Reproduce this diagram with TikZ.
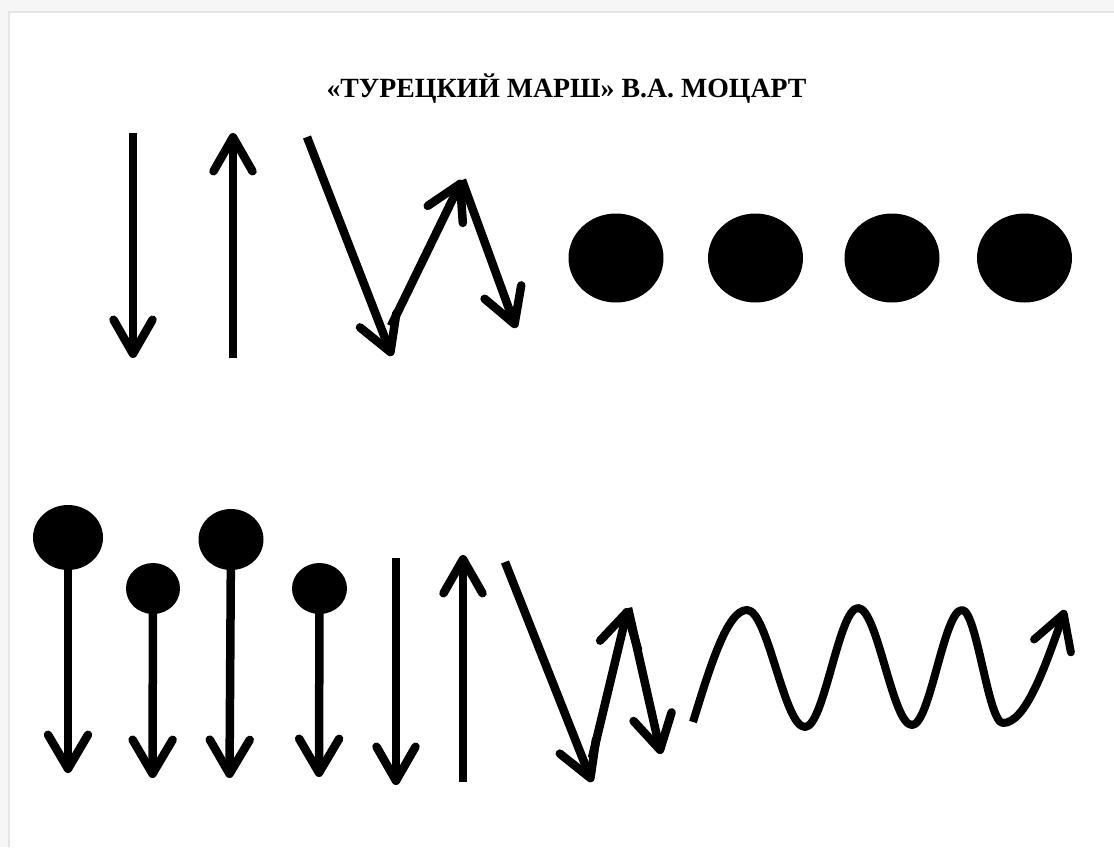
\documentclass[tikz,border=0pt]{standalone}
\usepackage{fontspec}
\newfontfamily\titlefont{Liberation Serif}
\usetikzlibrary{arrows.meta}
\tikzset{
  mv/.style={line width=8.5pt, line cap=butt, line join=round,
    -{Straight Barb[length=34pt,width=39pt,round]}},
  stem/.style={line width=8.5pt, line cap=butt, line join=round,
    -{Straight Barb[length=34pt,width=40pt,round]}},
  blob/.style={fill=black}
}
\begin{document}
\begin{tikzpicture}[x=1pt,y=-1pt]
\useasboundingbox (0,0) rectangle (1114,847);
% page frame
\fill[gray!7] (0,0) rectangle (1114,847);
\fill[white] (9,13) rectangle (1114,847);
\draw[gray!20, line width=2pt] (9,847) -- (9,12) -- (1114,12);
% title
\node[font=\titlefont\bfseries\fontsize{27.8}{30}\selectfont, anchor=base, inner sep=0pt] (title) at (566.5,97) {«ТУРЕЦКИЙ МАРШ» В.А. МОЦАРТ};
% ---- top row ----
\coordinate (d1s) at (133,133); \coordinate (d1e) at (133,358);
\coordinate (u1s) at (233,358); \coordinate (u1e) at (233,133);
\draw[mv] (d1s) -- (d1e);
\draw[mv] (u1s) -- (u1e);
\coordinate (za) at (307,137); \coordinate (zb) at (392,356);
\coordinate (zc) at (391,326); \coordinate (zd) at (462,180);
\coordinate (ze) at (516,328);
\draw[mv] (za) -- (zb);
\draw[mv] (zc) -- (zd);
\draw[mv] (zd) -- (ze);
\fill[blob] (616,258) ellipse [x radius=47.5, y radius=44.5];
\fill[blob] (755.5,258) ellipse [x radius=47.5, y radius=44.5];
\fill[blob] (892,258) ellipse [x radius=47.5, y radius=44.5];
\fill[blob] (1024.5,258) ellipse [x radius=47.5, y radius=44.5];
% ---- bottom row ----
\coordinate (l1) at (68,537.5); \coordinate (l1e) at (68,773);
\coordinate (l2) at (153,588.5); \coordinate (l2e) at (152.5,778);
\coordinate (l3) at (231,539.5); \coordinate (l3e) at (229.5,778);
\coordinate (l4) at (319.5,588.5); \coordinate (l4e) at (319,777);
\draw[stem] (l1) -- (l1e);
\draw[stem] (l2) -- (l2e);
\draw[stem] (l3) -- (l3e);
\draw[stem] (l4) -- (l4e);
\fill[blob] (l1) ellipse [x radius=35, y radius=32.5];
\fill[blob] (l2) ellipse [x radius=27, y radius=25.5];
\fill[blob] (l3) ellipse [x radius=32.5, y radius=30.5];
\fill[blob] (l4) ellipse [x radius=27.5, y radius=25.5];
\coordinate (d2s) at (396,558); \coordinate (d2e) at (396,785);
\coordinate (u2s) at (463,782); \coordinate (u2e) at (463,555);
\draw[mv] (d2s) -- (d2e);
\draw[mv] (u2s) -- (u2e);
\coordinate (ya) at (505,562); \coordinate (yb) at (592,782);
\coordinate (yc) at (592,758); \coordinate (yd) at (628,608);
\coordinate (ye) at (661,754);
\draw[mv] (ya) -- (yb);
\draw[mv] (yc) -- (yd);
\draw[mv] (yd) -- (ye);
% wave
\coordinate (w0) at (693,722);
\draw[mv, line width=8pt] (w0) sin (747,610) cos (776,668.5) sin (805,727)
  cos (831.5,667.5) sin (858,608) cos (885,666.5) sin (912,725)
  cos (937,667.5) sin (962,610) cos (982.5,666.5) sin (1003,723)
  cos (1065,610);
\end{tikzpicture}
\end{document}
